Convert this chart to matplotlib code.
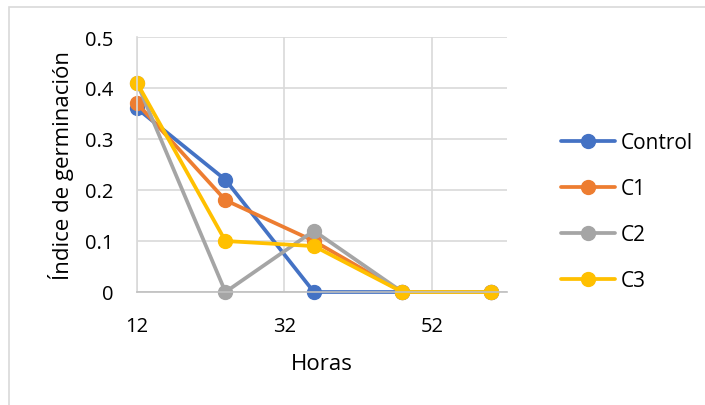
import matplotlib.pyplot as plt
from matplotlib.patches import Rectangle

horas = [12, 24, 36, 48, 60]
control = [0.36, 0.22, 0.0, 0.0, 0.0]
c1 = [0.37, 0.18, 0.10, 0.0, 0.0]
c2 = [0.41, 0.0, 0.12, 0.0, 0.0]
c3 = [0.41, 0.10, 0.09, 0.0, 0.0]

series_names = ['Control', 'C1', 'C2', 'C3']
series_colors = ['#4472C4', '#ED7D31', '#A5A5A5', '#FFC000']

x_ticks = [12, 32, 52]
y_ticks = [0, 0.1, 0.2, 0.3, 0.4, 0.5]
y_tick_labels = ['0', '0.1', '0.2', '0.3', '0.4', '0.5']

plt.rcParams['font.family'] = ['Open Sans', 'DejaVu Sans']

fig = plt.figure(figsize=(7.05, 4.06), dpi=100)
fig.patches.append(Rectangle((9 / 705, -0.05), 1.1, 1 - 8 / 406 + 0.05,
                             transform=fig.transFigure, fill=False,
                             edgecolor='#D9D9D9', linewidth=1.2))

ax = fig.add_axes([137 / 705, 1 - 293 / 406, (507 - 137) / 705, (293 - 38) / 406])

# series drawn in legend order so C3 ends up on top
for name, values, color in zip(series_names, [control, c1, c2, c3], series_colors):
    ax.plot(horas, values, color=color, linewidth=2.7, marker='o',
            markersize=10, label=name, solid_capstyle='round', clip_on=False)

ax.set_xlim(12, 62.2)
ax.set_ylim(0, 0.5)
ax.set_xticks(x_ticks)
ax.set_xticklabels([str(t) for t in x_ticks])
ax.set_yticks(y_ticks)
ax.set_yticklabels(y_tick_labels)
ax.tick_params(length=0, labelsize=14.5, colors='#000000')
ax.tick_params(axis='x', pad=17)
ax.tick_params(axis='y', pad=17)

ax.grid(True, color='#D9D9D9', linewidth=1.2)
ax.set_axisbelow(True)
for side in ['top', 'right']:
    ax.spines[side].set_visible(False)
ax.spines['left'].set_color('#D9D9D9')
ax.spines['bottom'].set_color('#BFBFBF')
ax.spines['left'].set_linewidth(1.2)
ax.spines['bottom'].set_linewidth(1.2)

ax.set_xlabel('Horas', fontsize=16, labelpad=12.5)
ax.set_ylabel('Índice de germinación', fontsize=16, labelpad=8)

ax.legend(loc='center left', bbox_to_anchor=(1.095, 0.314), frameon=False,
          fontsize=15, handlelength=2.6, labelspacing=1.2, handletextpad=0.25)

fig.savefig('out.png', dpi=100)
